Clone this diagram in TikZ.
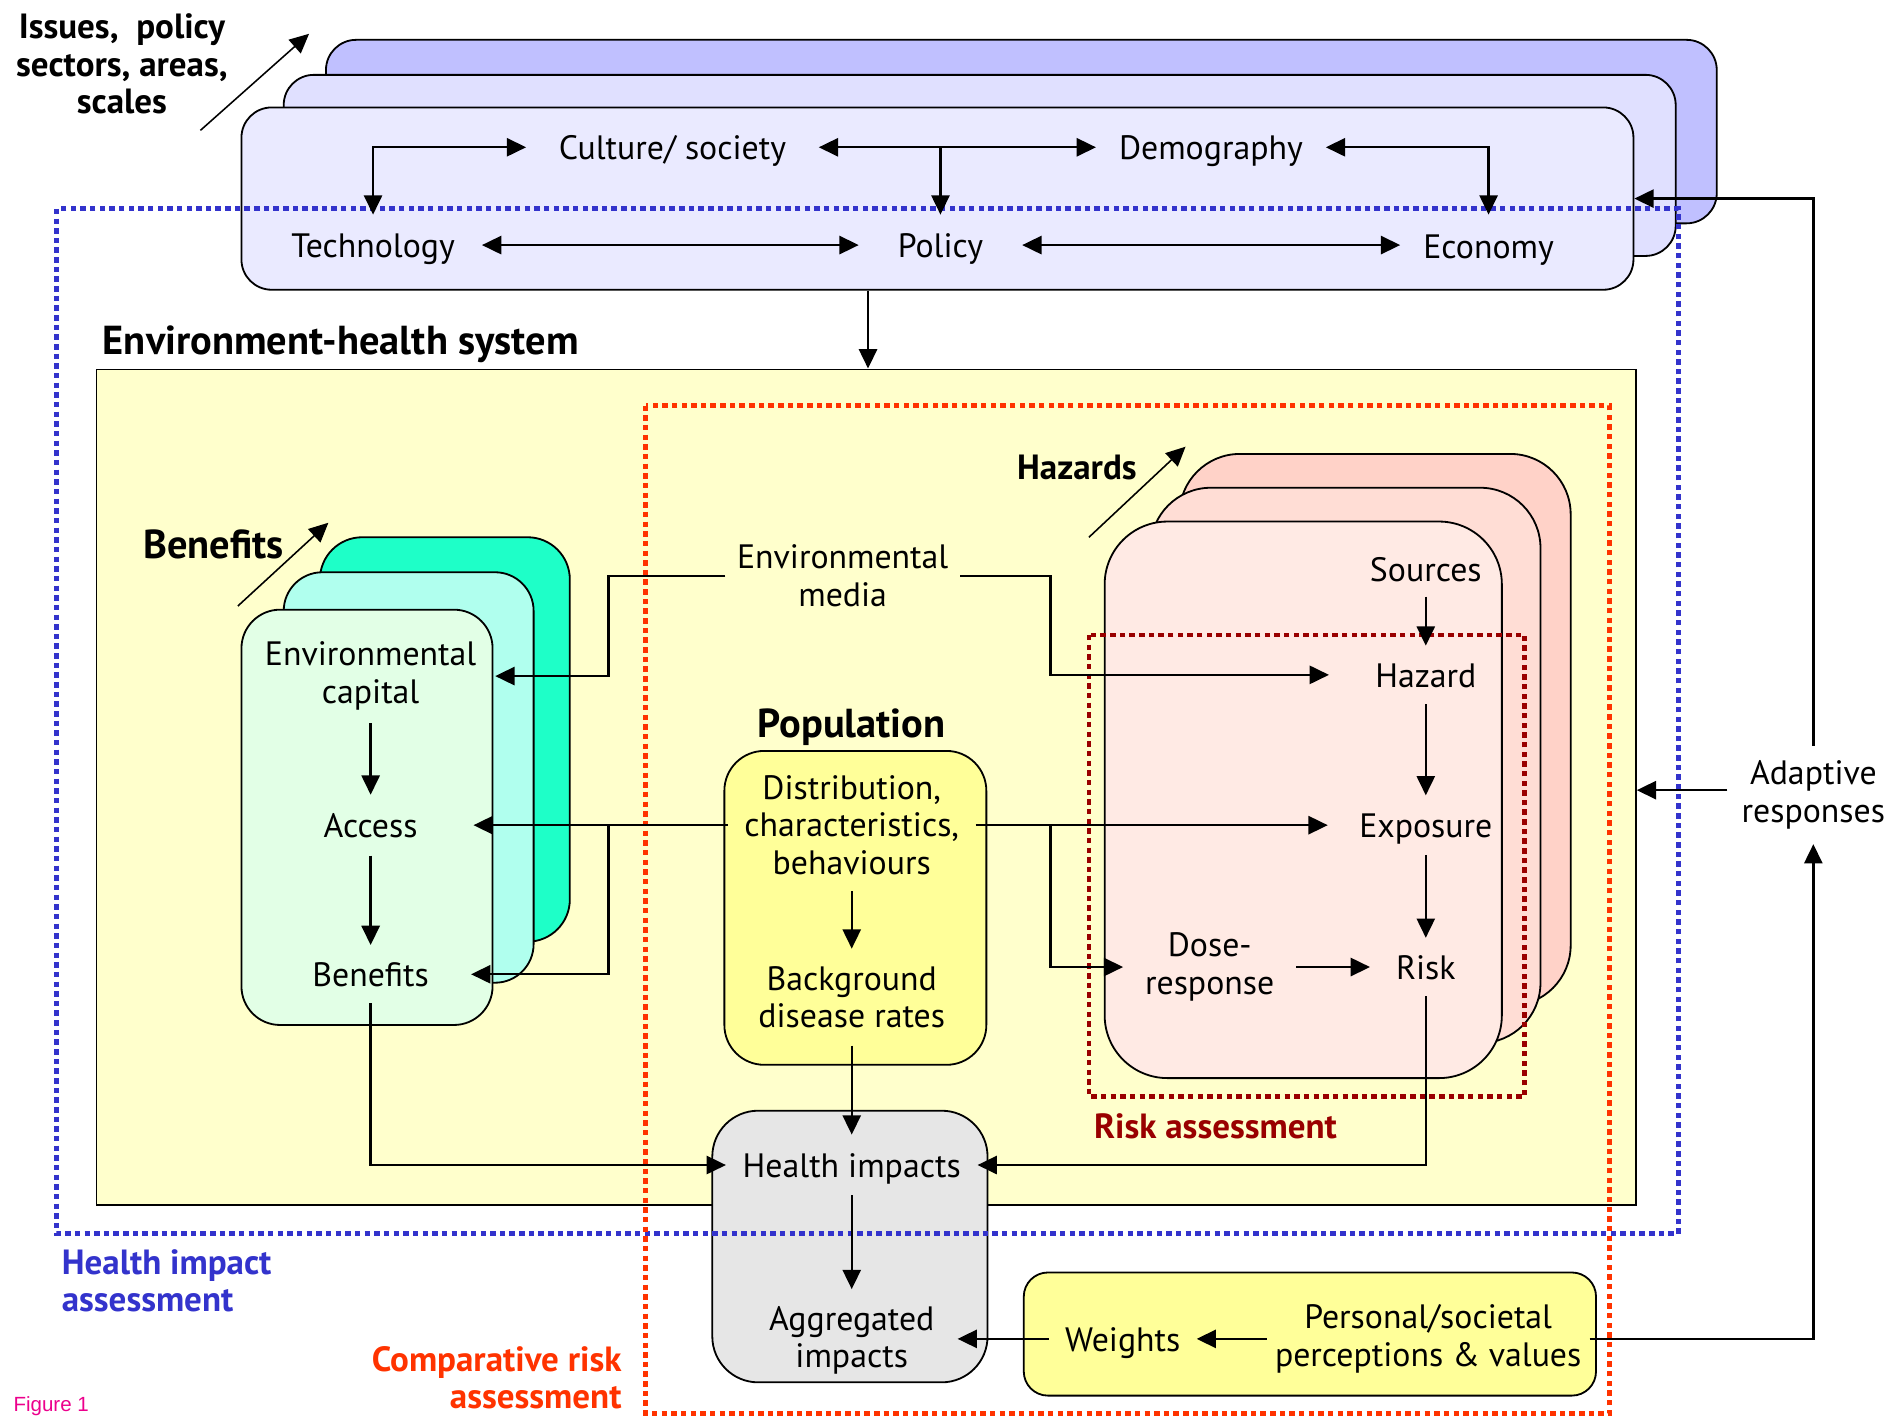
\documentclass[tikz,border=0pt]{standalone}
\usepackage{fontspec}
\setmainfont{PT Sans}
\newfontfamily\figfont{Liberation Sans}
\usetikzlibrary{arrows.meta}
\definecolor{topC}{HTML}{C0C0FF}
\definecolor{topB}{HTML}{E0E0FF}
\definecolor{topA}{HTML}{EAEAFF}
\definecolor{sysC}{HTML}{FFFFCC}
\definecolor{benC}{HTML}{1EFFC8}
\definecolor{benB}{HTML}{B0FFEE}
\definecolor{benA}{HTML}{E2FFE6}
\definecolor{hazC}{HTML}{FFD2C8}
\definecolor{hazB}{HTML}{FFDDD5}
\definecolor{hazA}{HTML}{FFEAE4}
\definecolor{popC}{HTML}{FFFF99}
\definecolor{hiC}{HTML}{E6E6E6}
\definecolor{hiaC}{HTML}{3333CC}
\definecolor{craC}{HTML}{FF3300}
\definecolor{raC}{HTML}{990000}
\tikzset{
  box/.style={draw, line width=1.5pt},
  lbl/.style={align=center, inner sep=0pt, minimum height=48pt},
  lbl1/.style={inner sep=0pt, minimum height=48pt, text height=25pt, text depth=4pt},
  ttl/.style={inner sep=0pt, font=\bfseries\fontsize{33.5}{38}\selectfont},
  subttl/.style={inner sep=0pt, font=\bfseries\fontsize{29}{31}\selectfont},
  conn/.style={line width=2pt},
  diag/.style={line width=1.3pt, ->},
  dotbox/.style={line width=4pt, dash pattern=on 4.5pt off 3.5pt}
}

\begin{document}
\begin{tikzpicture}[x=1pt, y=-1pt, >={Triangle[length=16pt,width=15pt]}, font=\fontsize{28}{31}\selectfont]
    \useasboundingbox (0,0) rectangle (1568,1174.5);

    \node[box, fill=topC, rounded corners=25pt, minimum width=1152pt, minimum height=152pt] (top3) at (846,109) {};
    \node[box, fill=topB, rounded corners=25pt, minimum width=1153pt, minimum height=150pt] (top2) at (811.5,137) {};
    \node[box, fill=topA, rounded corners=25pt, minimum width=1153pt, minimum height=151pt] (top1) at (776.5,164.5) {};

    \node[box, fill=sysC, minimum width=1275pt, minimum height=692pt] (sys) at (717.5,652) {};

    \node[box, fill=benC, rounded corners=35pt, minimum width=207pt, minimum height=335pt] (bn3) at (368.5,612.5) {};
    \node[box, fill=benB, rounded corners=32pt, minimum width=207pt, minimum height=340pt] (bn2) at (338.5,644) {};
    \node[box, fill=benA, rounded corners=32pt, minimum width=208pt, minimum height=344pt] (bn1) at (304,677) {};

    \node[box, fill=hazC, rounded corners=50pt, minimum width=324pt, minimum height=457pt] (hz3) at (1139,604.5) {};
    \node[box, fill=hazB, rounded corners=50pt, minimum width=323pt, minimum height=460pt] (hz2) at (1114.5,634) {};
    \node[box, fill=hazA, rounded corners=52pt, minimum width=329pt, minimum height=461pt] (hz1) at (1079.5,662.5) {};

    \node[box, fill=popC, rounded corners=33pt, minimum width=217pt, minimum height=260pt] (pop) at (708.5,752) {};
    \node[box, fill=hiC, rounded corners=38pt, minimum width=228pt, minimum height=225pt] (hib) at (704,1032.5) {};
    \node[box, fill=popC, rounded corners=20pt, minimum width=474pt, minimum height=102pt] (wbox) at (1085,1105) {};

    \draw[dotbox, draw=hiaC] (47,173) rectangle (1390,1022);
    \draw[dotbox, draw=craC] (535,336) rectangle (1333,1171);
    \draw[dotbox, draw=raC] (902,526) rectangle (1263,908);

    \node[subttl, align=center] (iss) at (101,53) {Issues,~ policy\\sectors, areas,\\scales};
    \node[ttl, anchor=west] (ehs) at (85,285) {Environment-health system};
    \node[ttl] (benT) at (177,451) {Benefits};
    \node[subttl] (hzT) at (892,387) {Hazards};
    \node[ttl] (popT) at (705.5,602) {Population};
    \node[subttl, text=hiaC, align=left, anchor=west] (hia) at (51,1061) {Health impact\\assessment};
    \node[subttl, text=craC, align=right, anchor=east] (cra) at (515,1141) {Comparative risk\\assessment};
    \node[subttl, text=raC, anchor=west] (ra) at (906,933) {Risk assessment};
    \node[anchor=west, inner sep=0pt, text=magenta, font=\figfont\fontsize{17}{20}\selectfont] (fig) at (11,1165) {Figure 1};

    \node[lbl1, minimum width=242pt] (cult) at (557,122) {Culture/ society};
    \node[lbl1, minimum width=190pt] (demo) at (1003,122) {Demography};
    \node[lbl1, minimum width=180pt, minimum height=50pt] (tech) at (309,203) {Technology};
    \node[lbl1, minimum width=135pt, minimum height=50pt] (pol) at (779,203) {Policy};
    \node[lbl1, minimum width=146pt, minimum height=52pt] (econ) at (1233,204) {Economy};

    \node[lbl, minimum width=194pt] (envmed) at (698,477) {Environmental\\media};
    \node[lbl, minimum width=206pt, minimum height=78pt] (envcap) at (307,560) {Environmental\\capital};
    \node[lbl1, minimum width=170pt, minimum height=50pt] (acc) at (307,683.5) {Access};
    \node[lbl1, minimum width=166pt] (ben) at (307,807) {Benefits};
    \node[lbl, minimum width=205pt, minimum height=109pt] (dist) at (705.5,683.5) {Distribution,\\characteristics,\\behaviours};
    \node[lbl, minimum height=80pt] (bg) at (705.5,826) {Background\\disease rates};

    \node[lbl1, minimum height=46pt] (src) at (1181,471) {Sources};
    \node[lbl1, minimum width=160pt] (haz) at (1181,559) {Hazard};
    \node[lbl1, minimum width=162pt, minimum height=49pt] (expo) at (1181,683.5) {Exposure};
    \node[lbl, minimum width=143pt, minimum height=80pt] (dose) at (1002,801) {Dose-\\response};
    \node[lbl1, minimum width=92pt] (risk) at (1181,801) {Risk};

    \node[lbl1, minimum width=208pt, minimum height=50pt] (hi) at (705.5,965) {Health impacts};
    \node[lbl, minimum width=175pt, minimum height=84pt] (agg) at (705.5,1110) {Aggregated\\impacts};
    \node[lbl1, minimum width=122pt] (wts) at (930,1109) {Weights};
    \node[lbl, minimum width=267pt, minimum height=70pt] (pers) at (1183,1109) {Personal/societal\\perceptions \& values};
    \node[lbl, minimum width=142pt, minimum height=81pt] (adapt) at (1502,658.5) {Adaptive\\responses};

    \coordinate (pdown) at (719,0);
    \coordinate (jl) at (504,0);
    \coordinate (jr) at (870,0);

    \draw[conn, <->] (tech.north) |- (cult.west);
    \draw[conn, <->] (cult.east) -- (demo.west);
    \draw[conn, ->] (cult.east -| pol.north) -- (pol.north);
    \draw[conn, <->] (demo.east) -| (econ.north);
    \draw[conn, <->] (tech.east) -- (tech.east -| pol.west);
    \draw[conn, <->] (pol.east) -- (pol.east -| econ.west);
    \draw[conn, ->] (top1.south -| pdown) -- (sys.north -| pdown);

    \draw[conn, ->] (adapt.north) |- (top1.east);
    \draw[conn, ->] ([yshift=4pt]adapt.west) -- ([yshift=4pt]adapt.west -| sys.east);
    \draw[conn, ->] (pers.east) -| (adapt.south);

    \draw[conn, ->] (envmed.west) -- (envmed.west -| jl) |- (envcap.east);
    \draw[conn, ->] (envmed.east) -- (envmed.east -| jr) |- (haz.west);
    \draw[conn, ->] (dist.west) -- (acc.east);
    \draw[conn, ->] (dist.west -| jl) |- (ben.east);
    \draw[conn, ->] (dist.east) -- (expo.west);
    \draw[conn, ->] (dist.east -| jr) |- (dose.west);

    \draw[conn, ->] (envcap) edge (acc)
                    (acc) edge (ben)
                    (dist) edge (bg)
                    (bg) edge (hi)
                    (hi) edge (agg)
                    (src) edge (haz)
                    (haz) edge (expo)
                    (expo) edge (risk)
                    (dose) edge (risk)
                    (pers) edge (wts);
    \draw[conn, ->] (wts.west) -- (wts.west -| agg.east);
    \draw[conn, ->] (ben.south) |- (hi.west);
    \draw[conn, ->] (risk.south) |- (hi.east);

    \coordinate (is0) at (166,108);
    \coordinate (is1) at (256,28);
    \coordinate (bt0) at (197,502);
    \coordinate (bt1) at (272,433);
    \coordinate (ht0) at (902,445);
    \coordinate (ht1) at (982,370);
    \draw[diag] (is0) -- (is1);
    \draw[diag] (bt0) -- (bt1);
    \draw[diag] (ht0) -- (ht1);
\end{tikzpicture}
\end{document}
